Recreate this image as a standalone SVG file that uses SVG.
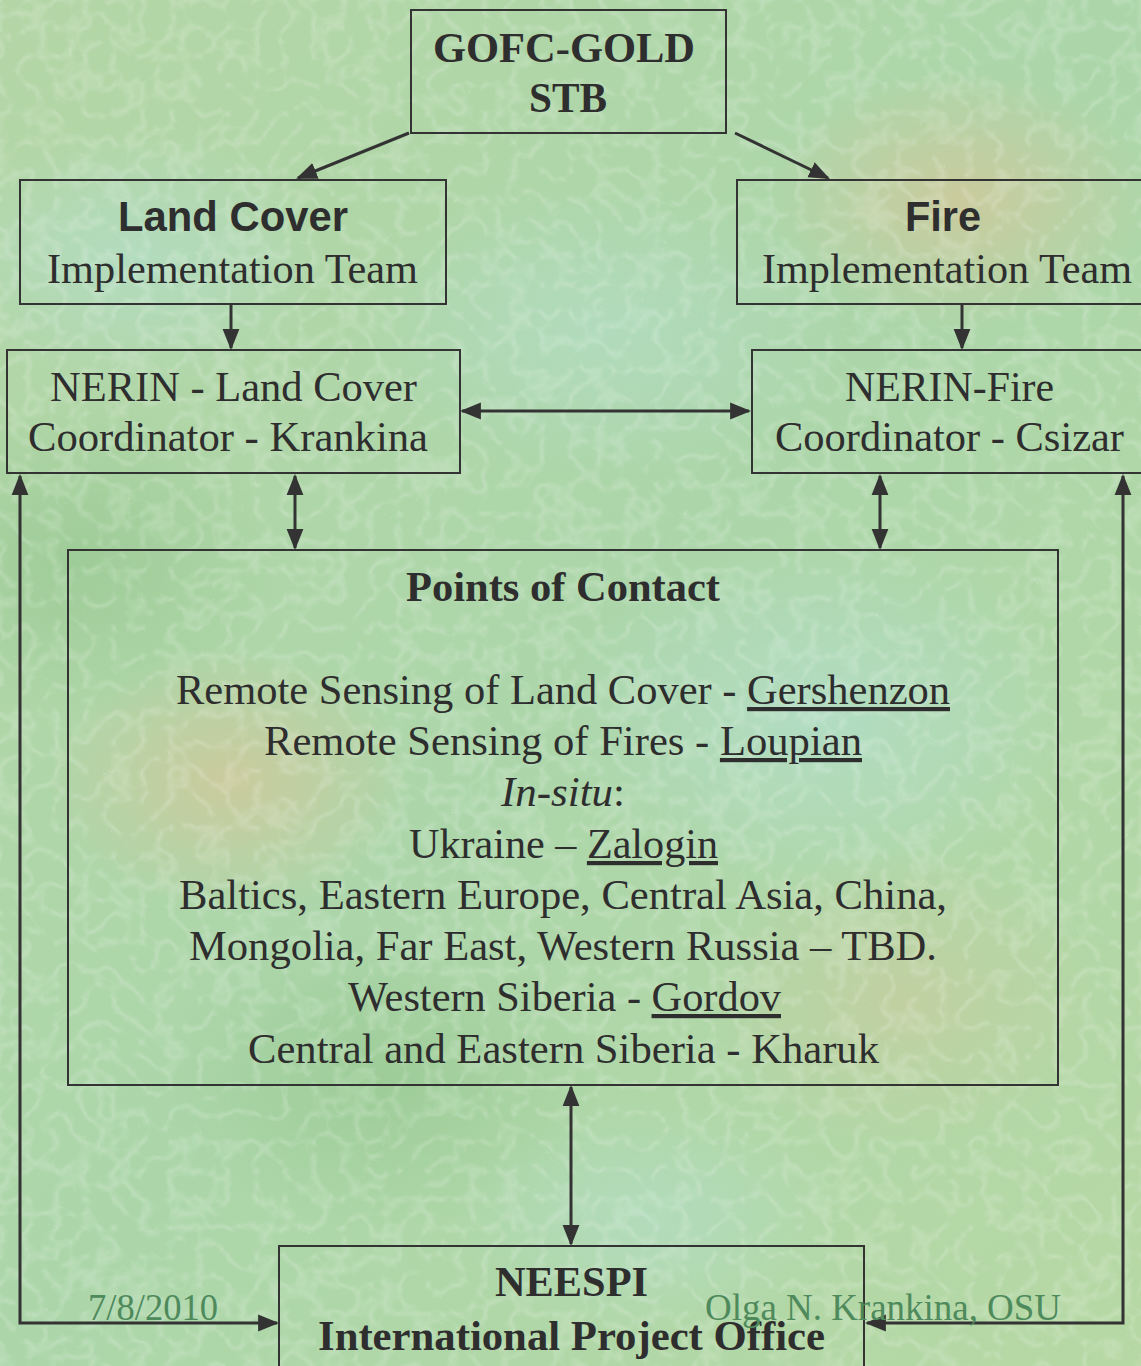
<svg xmlns="http://www.w3.org/2000/svg" width="1141" height="1366" viewBox="0 0 1141 1366">
<defs>
<linearGradient id="bg" x1="0" y1="0" x2="1" y2="1">
<stop offset="0" stop-color="#b4d6a6"/>
<stop offset="0.5" stop-color="#acd6aa"/>
<stop offset="1" stop-color="#b6d8a4"/>
</linearGradient>
<radialGradient id="tan1" cx="0.5" cy="0.5" r="0.5">
<stop offset="0" stop-color="#d2c89a" stop-opacity="0.8"/>
<stop offset="1" stop-color="#d2c89a" stop-opacity="0"/>
</radialGradient>
<radialGradient id="blue1" cx="0.5" cy="0.5" r="0.5">
<stop offset="0" stop-color="#b4e0d2" stop-opacity="0.8"/>
<stop offset="1" stop-color="#b4e0d2" stop-opacity="0"/>
</radialGradient>
<radialGradient id="grn1" cx="0.5" cy="0.5" r="0.5">
<stop offset="0" stop-color="#96c890" stop-opacity="0.7"/>
<stop offset="1" stop-color="#96c890" stop-opacity="0"/>
</radialGradient>
<filter id="tex" x="0" y="0" width="100%" height="100%">
<feTurbulence type="turbulence" baseFrequency="0.035" numOctaves="2" seed="7" result="n"/>
<feColorMatrix type="matrix" values="0 0 0 0 1  0 0 0 0 1  0 0 0 0 1  -2.2 0 0 0 0.55" in="n"/>
</filter>
<marker id="ahb" viewBox="0 0 10 10" refX="9" refY="5" markerWidth="7" markerHeight="7" orient="auto-start-reverse">
<path d="M0,1 L10,5 L0,9 z" fill="#333"/>
</marker>
</defs>
<style>
.box{fill:none;stroke:#333;stroke-width:2}
.ser{font-family:"Liberation Serif","Times New Roman",serif;fill:#2e2e2e;text-anchor:middle;font-size:42px}
.sans{font-family:"Liberation Sans",Arial,sans-serif;fill:#2e2e2e;text-anchor:middle;font-weight:bold;font-size:42px}
.b{font-weight:bold}
.u{text-decoration:underline}
.con{stroke:#333;stroke-width:3;fill:none;marker-end:url(#ahb)}
.dbl{marker-start:url(#ahb)}
.foot{font-family:"Liberation Serif","Times New Roman",serif;fill:#4e8a5c;font-size:37px}
</style>
<rect x="0" y="0" width="1141" height="1366" fill="url(#bg)"/>
<ellipse cx="230" cy="780" rx="180" ry="130" fill="url(#tan1)"/>
<ellipse cx="960" cy="200" rx="190" ry="130" fill="url(#tan1)"/>
<ellipse cx="820" cy="720" rx="260" ry="180" fill="url(#blue1)" opacity="0.8"/>
<ellipse cx="130" cy="260" rx="200" ry="130" fill="url(#blue1)" opacity="0.7"/>
<ellipse cx="600" cy="330" rx="250" ry="150" fill="url(#blue1)" opacity="0.6"/>
<ellipse cx="900" cy="1000" rx="200" ry="150" fill="url(#tan1)" opacity="0.6"/>
<ellipse cx="380" cy="1080" rx="220" ry="150" fill="url(#grn1)"/>
<ellipse cx="80" cy="560" rx="200" ry="160" fill="url(#grn1)"/>
<ellipse cx="650" cy="1220" rx="200" ry="120" fill="url(#blue1)" opacity="0.6"/>
<rect x="0" y="0" width="1141" height="1366" filter="url(#tex)" opacity="0.35"/>

<g id="connectors">
<line class="con" x1="409" y1="133" x2="298" y2="178"/>
<line class="con" x1="735" y1="133" x2="828" y2="178"/>
<line class="con" x1="231" y1="305" x2="231" y2="348"/>
<line class="con" x1="962" y1="305" x2="962" y2="348"/>
<line class="con dbl" x1="462" y1="411" x2="749" y2="411"/>
<line class="con dbl" x1="295" y1="476" x2="295" y2="548"/>
<line class="con dbl" x1="880" y1="476" x2="880" y2="548"/>
<line class="con dbl" x1="571" y1="1087" x2="571" y2="1244"/>
<polyline class="con dbl" points="20,476 20,1323 277,1323"/>
<polyline class="con dbl" points="1123,476 1123,1323 867,1323"/>
</g>

<g id="gofc">
<rect class="box" x="411" y="10" width="315" height="123"/>
<text class="ser b" x="564" y="62" textLength="262" lengthAdjust="spacingAndGlyphs">GOFC-GOLD</text>
<text class="ser b" x="568" y="112" textLength="78" lengthAdjust="spacingAndGlyphs">STB</text>
</g>
<g id="landcover">
<rect class="box" x="20" y="180" width="426" height="124"/>
<text class="sans" x="233" y="231" textLength="230" lengthAdjust="spacingAndGlyphs">Land Cover</text>
<text class="ser" x="232.5" y="283" textLength="371" lengthAdjust="spacingAndGlyphs">Implementation Team</text>
</g>
<g id="fire">
<rect class="box" x="737" y="180" width="410" height="124"/>
<text class="sans" x="943" y="231" textLength="76" lengthAdjust="spacingAndGlyphs">Fire</text>
<text class="ser" x="947" y="283" textLength="370" lengthAdjust="spacingAndGlyphs">Implementation Team</text>
</g>
<g id="nerin-lc">
<rect class="box" x="7" y="350" width="453" height="123"/>
<text class="ser" x="233.5" y="401" textLength="367" lengthAdjust="spacingAndGlyphs">NERIN - Land Cover</text>
<text class="ser" x="228" y="451" textLength="400" lengthAdjust="spacingAndGlyphs">Coordinator - Krankina</text>
</g>
<g id="nerin-fire">
<rect class="box" x="752" y="350" width="395" height="123"/>
<text class="ser" x="949.5" y="401" textLength="209" lengthAdjust="spacingAndGlyphs">NERIN-Fire</text>
<text class="ser" x="949.5" y="451" textLength="349" lengthAdjust="spacingAndGlyphs">Coordinator - Csizar</text>
</g>
<g id="points">
<rect class="box" x="68" y="550" width="990" height="535"/>
<text class="ser b" x="563" y="601" textLength="314" lengthAdjust="spacingAndGlyphs">Points of Contact</text>
<text class="ser" x="563" y="704" textLength="774" lengthAdjust="spacingAndGlyphs">Remote Sensing of Land Cover - <tspan class="u">Gershenzon</tspan></text>
<text class="ser" x="563" y="755" textLength="598" lengthAdjust="spacingAndGlyphs">Remote Sensing of Fires - <tspan class="u">Loupian</tspan></text>
<text class="ser" x="563" y="806" textLength="124" lengthAdjust="spacingAndGlyphs"><tspan font-style="italic">In-situ</tspan>:</text>
<text class="ser" x="563.5" y="858" textLength="309" lengthAdjust="spacingAndGlyphs">Ukraine – <tspan class="u">Zalogin</tspan></text>
<text class="ser" x="563" y="909" textLength="768" lengthAdjust="spacingAndGlyphs">Baltics, Eastern Europe, Central Asia, China,</text>
<text class="ser" x="563" y="960" textLength="748" lengthAdjust="spacingAndGlyphs">Mongolia, Far East, Western Russia – TBD.</text>
<text class="ser" x="564.5" y="1011" textLength="433" lengthAdjust="spacingAndGlyphs">Western Siberia - <tspan class="u">Gordov</tspan></text>
<text class="ser" x="563.5" y="1063" textLength="631" lengthAdjust="spacingAndGlyphs">Central and Eastern Siberia - Kharuk</text>
</g>
<g id="neespi">
<rect class="box" x="279" y="1246" width="585" height="140"/>
<text class="ser b" x="571.5" y="1296" textLength="153" lengthAdjust="spacingAndGlyphs">NEESPI</text>
<text class="ser b" x="571.5" y="1350" textLength="507" lengthAdjust="spacingAndGlyphs">International Project Office</text>
</g>
<g id="footer">
<text class="foot" x="88" y="1320" textLength="130" lengthAdjust="spacingAndGlyphs">7/8/2010</text>
<text class="foot" x="705" y="1320" textLength="356" lengthAdjust="spacingAndGlyphs">Olga N. Krankina, OSU</text>
</g>
</svg>
